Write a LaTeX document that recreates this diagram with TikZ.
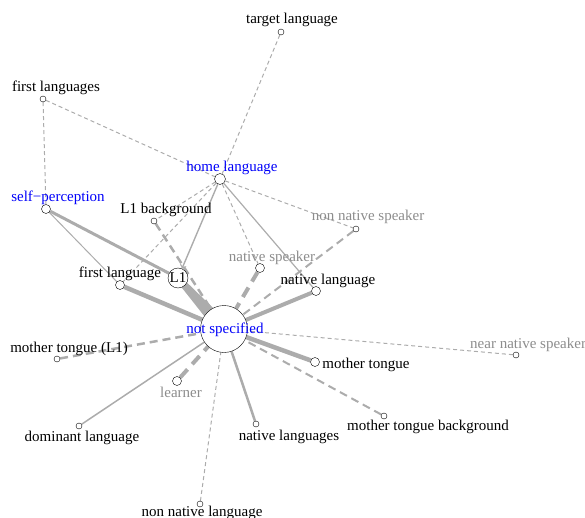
\documentclass[tikz,border=0pt]{standalone}
\usepackage{fontspec}
\setmainfont{Liberation Serif}
\usepackage{tikz}
\usetikzlibrary{calc, backgrounds}

\definecolor{edgegray}{RGB}{172,172,172}
\definecolor{lblgray}{RGB}{140,140,140}
\definecolor{lblblue}{RGB}{0,0,250}

\begin{document}
\begin{tikzpicture}[x=1pt, y=-1pt]
      \tikzset{vertex/.style = {shape=circle,draw,fill=white,inner sep=0pt,minimum size=#1}, vertex/.default=6pt}
      \tikzset{lbl/.style = {inner sep=0pt,text height=0.7em,text depth=0.2em,font=\fontsize{15}{18}\selectfont}}
      \tikzset{edge/.style = {draw=edgegray,line width=#1}}
      \tikzset{dsh/.style = {dash pattern=on 4pt off 3pt}}
      \tikzset{dshm/.style = {dash pattern=on 8pt off 5pt}}
      \tikzset{dshl/.style = {dash pattern=on 11pt off 7pt}}
      \useasboundingbox (0,0) rectangle (585,518);

      \node[vertex] (tl) at (281,32) {};
      \node[vertex] (fls) at (43,99) {};
      \node[vertex=11pt] (home) at (220,179) {};
      \node[vertex=9pt] (self) at (46,209) {};
      \node[vertex] (l1b) at (154,221) {};
      \node[vertex] (nns) at (356,229) {};
      \node[vertex=9pt] (nsp) at (260,268) {};
      \node[vertex=9pt] (fl) at (120,285) {};
      \node[vertex=20pt,font=\fontsize{15}{18}\selectfont] (l1) at (178,278) {L1};
      \node[vertex=9pt] (nl) at (316,291) {};
      \node[vertex=47pt] (ns) at (224,329) {};
      \node[vertex] (mtl1) at (57,359) {};
      \node[vertex] (nearns) at (516,355) {};
      \node[vertex=9pt] (mt) at (315,362) {};
      \node[vertex=9pt] (lrn) at (177,381) {};
      \node[vertex] (mtb) at (384,416) {};
      \node[vertex] (dom) at (79,426) {};
      \node[vertex] (nls) at (256,424) {};
      \node[vertex] (nnl) at (200,504) {};

      \begin{scope}[on background layer]
      \draw[edge=1pt,dsh] (tl) to (home);
      \draw[edge=1pt,dsh] (fls) to (home);
      \draw[edge=1pt,dsh] (fls) to (self);
      \draw[edge=3pt] (self) to (l1);
      \draw[edge=1pt] (self) to (fl);
      \draw[edge=1pt,dsh] (home) to (l1b);
      \draw[edge=1pt,dsh] (home) to (fl);
      \draw[edge=1.4pt,->] (home) to (l1);
      \draw[edge=1pt,dsh] (home) to (nsp);
      \draw[edge=1.2pt] (home) to (nl);
      \draw[edge=1pt,dsh] (home) to (nns);
      \draw[edge=2.5pt,dshm] (l1b) to (ns);
      % wide wedge from L1 into the hub
      \fill[edgegray] ($(l1.center)!3pt!90:(ns.center)$) -- ($(l1.center)!3pt!-90:(ns.center)$)
        -- ($(ns.center)!7.5pt!90:(l1.center)$) -- ($(ns.center)!7.5pt!-90:(l1.center)$) -- cycle;
      \draw[edge=4.5pt] (fl) to (ns);
      \draw[edge=4pt,dshl] (nsp) to (ns);
      \draw[edge=4pt] (nl) to (ns);
      \draw[edge=2pt,dshm] (nns) to (ns);
      \draw[edge=2.5pt,dshm] (mtl1) to (ns);
      \draw[edge=1pt,dsh] (nearns) to (ns);
      \draw[edge=4.5pt] (mt) to (ns);
      \draw[edge=2pt,dshm] (mtb) to (ns);
      \draw[edge=4pt,dshl] (lrn) to (ns);
      \draw[edge=1.5pt] (dom) to (ns);
      \draw[edge=2.5pt] (nls) to (ns);
      \draw[edge=1pt,dsh] (nnl) to (ns);
      \end{scope}

      \node[lbl] (tl-l) at (292,21) {target language};
      \node[lbl] (fls-l) at (56,89) {first languages};
      \node[lbl,lblblue] (home-l) at (232,169) {home language};
      \node[lbl,lblblue] (self-l) at (58,199) {self−perception};
      \node[lbl] (l1b-l) at (166,211) {L1 background};
      \node[lbl,lblgray] (nns-l) at (368,218) {non native speaker};
      \node[lbl,lblgray] (nsp-l) at (272,259) {native speaker};
      \node[lbl] (fl-l) at (120,275) {first language};
      \node[lbl] (nl-l) at (328,282) {native language};
      \node[lbl,lblblue] (ns-l) at (225,331) {not specified};
      \node[lbl] (mtl1-l) at (69,350) {mother tongue (L1)};
      \node[lbl,lblgray,anchor=west] (nearns-l) at (470,346) {near native speaker};
      \node[lbl] (mt-l) at (366,366) {mother tongue};
      \node[lbl,lblgray] (lrn-l) at (181,395) {learner};
      \node[lbl] (mtb-l) at (428,428) {mother tongue background};
      \node[lbl] (dom-l) at (82,439) {dominant language};
      \node[lbl] (nls-l) at (289,438) {native languages};
      \node[lbl] (nnl-l) at (202,514) {non native language};
\end{tikzpicture}
\end{document}
